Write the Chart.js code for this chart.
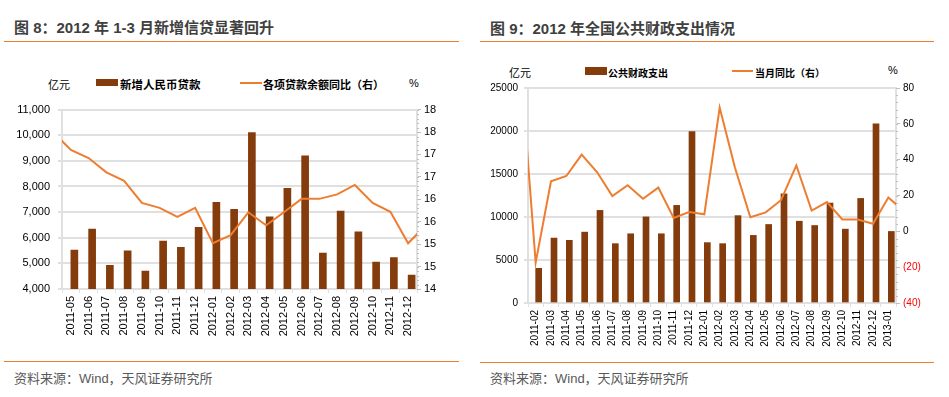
<!DOCTYPE html>
<html>
<head>
<meta charset="utf-8">
<script src="https://cdn.jsdelivr.net/npm/chart.js@4.4.0/dist/chart.umd.min.js"></script>
<style>
  body{margin:0;background:#fff;width:949px;height:397px;position:relative;overflow:hidden;
    font-family:"Liberation Sans",Arial,"Noto Sans CJK SC",sans-serif;}
  .abs{position:absolute;white-space:nowrap;}
  .title{font-size:15px;font-weight:bold;color:#404040;line-height:15px;}
  .rule{position:absolute;height:1px;background:#ED7D31;}
  .src{font-size:13px;color:#595959;line-height:13px;}
  .leg{font-weight:bold;color:#000;}
  .unit{color:#000;}
  canvas{position:absolute;}
</style>
</head>
<body>
<div class="abs title" style="left:14px;top:20px;">图 8：2012 年 1-3 月新增信贷显著回升</div>
<div class="rule" style="left:4px;top:41px;width:455px;"></div>
<div class="abs title" style="left:490px;top:21px;">图 9：2012 年全国公共财政支出情况</div>
<div class="rule" style="left:480px;top:41px;width:454px;"></div>

<!-- legend, left chart -->
<div class="abs unit" style="left:48px;top:76px;font-size:11px;">亿元</div>
<div class="abs" style="left:96px;top:79px;width:22px;height:7px;background:#843C0C;"></div>
<div class="abs leg" style="left:120px;top:76px;font-size:11.5px;">新增人民币贷款</div>
<div class="abs" style="left:240px;top:82px;width:22px;height:2px;background:#ED7D31;"></div>
<div class="abs leg" style="left:263px;top:76px;font-size:11px;">各项贷款余额同比（右）</div>
<div class="abs unit" style="left:409px;top:77px;font-size:11px;">%</div>

<!-- legend, right chart -->
<div class="abs unit" style="left:509px;top:64px;font-size:11px;">亿元</div>
<div class="abs" style="left:585px;top:67px;width:22px;height:8px;background:#843C0C;"></div>
<div class="abs leg" style="left:608px;top:65px;font-size:10px;">公共财政支出</div>
<div class="abs" style="left:732px;top:70px;width:21px;height:2px;background:#ED7D31;"></div>
<div class="abs leg" style="left:755px;top:65px;font-size:10px;">当月同比（右）</div>
<div class="abs unit" style="left:888px;top:64px;font-size:11px;">%</div>

<canvas id="loanChart" width="460" height="258" style="left:0;top:95px;"></canvas>
<canvas id="fiscalChart" width="470" height="280" style="left:474px;top:76px;"></canvas>

<div class="rule" style="left:4px;top:361px;width:455px;"></div>
<div class="abs src" style="left:14px;top:372px;">资料来源：Wind，天风证券研究所</div>
<div class="rule" style="left:480px;top:362px;width:454px;"></div>
<div class="abs src" style="left:490px;top:372px;">资料来源：Wind，天风证券研究所</div>

<script>
// ---- figure 8 data ----
var loanMonths = ["2011-05","2011-06","2011-07","2011-08","2011-09","2011-10","2011-11","2011-12",
  "2012-01","2012-02","2012-03","2012-04","2012-05","2012-06","2012-07","2012-08","2012-09","2012-10","2012-11","2012-12"];
var newLoans = [5516,6339,4925,5485,4700,5868,5622,6405,7381,7107,10107,6818,7932,9198,5401,7039,6232,5052,5229,4543];
// loan balance yoy, one month before and after the visible range (clipped at the edges)
var loanYoyMonths = ["2011-04"].concat(loanMonths, ["2013-01"]);
var loanYoy = [17.5,17.1,16.92,16.6,16.41,15.92,15.81,15.61,15.81,15.02,15.2,15.71,15.42,15.71,16.01,16.01,16.11,16.32,15.92,15.72,15.02,15.42];

// ---- figure 9 data ----
var fiscalMonths = ["2011-02","2011-03","2011-04","2011-05","2011-06","2011-07","2011-08","2011-09","2011-10","2011-11","2011-12",
  "2012-01","2012-02","2012-03","2012-04","2012-05","2012-06","2012-07","2012-08","2012-09","2012-10","2012-11","2012-12","2013-01"];
var fiscalSpend = [4030,7550,7290,8240,10770,6900,8050,10010,8050,11350,19940,7020,6900,10160,7860,9130,12690,9510,9010,11620,8590,12160,20820,8320];
var fiscalYoyMonths = ["2011-01"].concat(fiscalMonths, ["2013-02"]);
var fiscalYoy = [95,-17.5,27.9,30.9,42.8,33.1,19.7,25.7,18.2,24.4,7.5,10.8,9.5,69.1,35.5,7.9,10.6,17.4,36.8,11.6,16.3,6.6,6.6,4.2,18.9,11.5];

var BROWN = "#843C0C", ORANGE = "#ED7D31", GRID = "#e0e0e0";
var FONT = "'Liberation Sans', Arial, sans-serif";

function linePoints(vals){
  // index 0 is the month before the first bar
  return vals.map(function(v,i){ return {x:i-1, y:v}; });
}

// small minor ticks on the right-hand axis
var minorTicks = {
  id:"minorTicks",
  afterDraw:function(chart, args, opts){
    var s = chart.scales.y1, ctx = chart.ctx;
    ctx.save();
    ctx.strokeStyle = "#bfbfbf";
    ctx.lineWidth = 1;
    for (var v = s.min; v <= s.max + 1e-9; v += opts.step){
      var y = Math.round(s.getPixelForValue(v)) + 0.5;
      ctx.beginPath();
      ctx.moveTo(s.left, y);
      ctx.lineTo(s.left + 2, y);
      ctx.stroke();
    }
    ctx.restore();
  }
};

function makeChart(id, cats, bars, lineVals, o){
  return new Chart(document.getElementById(id).getContext("2d"), {
    type:"bar",
    data:{
      labels:cats,
      datasets:[{
        type:"line", data:linePoints(lineVals), xAxisID:"x2", yAxisID:"y1",
        borderColor:ORANGE, borderWidth:2, pointRadius:0, tension:0, order:0
      },{
        data:bars, xAxisID:"x", yAxisID:"y",
        backgroundColor:BROWN, barThickness:o.barW, order:1
      }]
    },
    options:{
      responsive:false, animation:false, devicePixelRatio:1,
      layout:{padding:{top:o.padTop, left:0, right:0, bottom:0}},
      plugins:{legend:{display:false}, tooltip:{enabled:false}, minorTicks:{step:o.minor}},
      scales:{
        x:{
          type:"category", offset:true,
          grid:{drawOnChartArea:false, color:GRID, tickLength:4, offset:true},
          border:{color:GRID, width:2},
          ticks:{minRotation:90, maxRotation:90, autoSkip:false, padding:3, color:"#000",
            font:{family:FONT, size:o.xFont}},
          afterFit:function(s){ s.height = o.xHeight; }
        },
        x2:{type:"linear", display:false, offset:false, grid:{offset:false},
          min:-0.5, max:cats.length-0.5},
        y:{
          position:"left", min:o.yMin, max:o.yMax,
          grid:{color:GRID, lineWidth:2, tickLength:4},
          border:{color:GRID, width:2},
          ticks:{stepSize:o.yStep, padding:o.yPad, color:"#000", font:{family:FONT, size:o.yFont},
            callback:o.yFmt},
          afterFit:function(s){ s.width = o.yWidth; }
        },
        y1:{
          position:"right", min:o.y1Min, max:o.y1Max,
          grid:{drawOnChartArea:false, color:"#bfbfbf", tickLength:4},
          border:{color:GRID, width:2},
          ticks:{stepSize:o.y1Step, padding:3, font:{family:FONT, size:o.yFont},
            color:function(c){ return c.tick && c.tick.value < 0 ? "#ff0000" : "#000"; },
            callback:o.y1Fmt},
          afterFit:function(s){ s.width = o.y1Width; }
        }
      }
    },
    plugins:[minorTicks]
  });
}

makeChart("loanChart", loanMonths, newLoans, loanYoy, {
  padTop:8, xHeight:64, xFont:11, yFont:11, barW:7,
  yMin:4000, yMax:11000, yStep:1000, yPad:8, yWidth:62,
  yFmt:function(v){ return v.toLocaleString("en-US"); },
  y1Min:14, y1Max:18, y1Step:0.5, y1Width:43, minor:0.1,
  y1Fmt:function(v){ return String(Math.round(v)); }
});

makeChart("fiscalChart", fiscalMonths, fiscalSpend, fiscalYoy, {
  padTop:10, xHeight:53, xFont:10, yFont:10, barW:6,
  yMin:0, yMax:25000, yStep:5000, yPad:6, yWidth:54,
  yFmt:function(v){ return String(v); },
  y1Min:-40, y1Max:80, y1Step:20, y1Width:48, minor:4,
  y1Fmt:function(v){ return v < 0 ? "(" + (-v) + ")" : String(v); }
});
</script>
</body>
</html>
